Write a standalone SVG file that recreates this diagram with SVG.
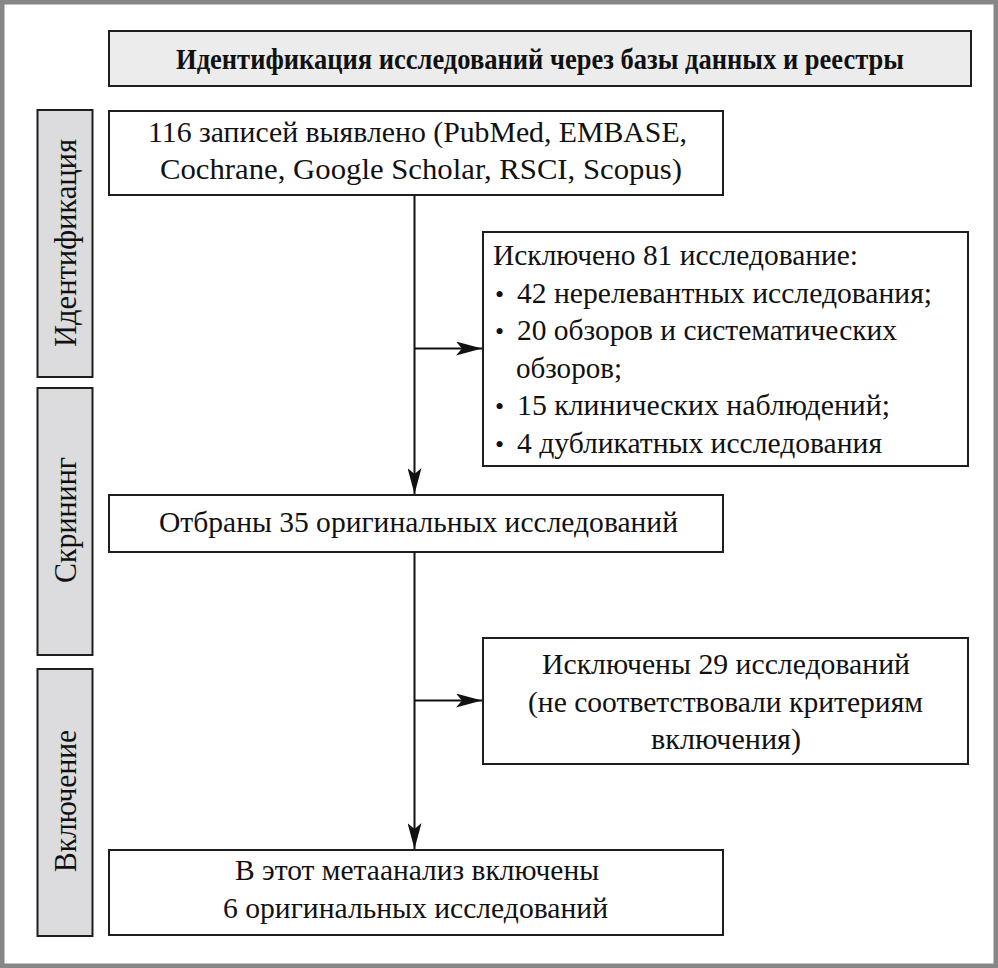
<svg xmlns="http://www.w3.org/2000/svg" width="998" height="968" viewBox="0 0 998 968">
<defs>
<style>
.frame{fill:#ffffff;stroke:#878787;stroke-width:4.5}
.box{fill:#ffffff;stroke:#1e1e1e;stroke-width:2}
.hdr{fill:#ececec;stroke:#1e1e1e;stroke-width:2}
.side{fill:#dcdcde;stroke:#1e1e1e;stroke-width:2}
.t{font-family:"Liberation Serif","Times New Roman",serif;font-size:30px;fill:#111111}
.tb{font-family:"Liberation Serif","Times New Roman",serif;font-size:30px;font-weight:bold;fill:#111111}
.ts{font-family:"Liberation Serif","Times New Roman",serif;font-size:31px;fill:#111111}
.bul{font-family:"Liberation Serif","Times New Roman",serif;font-size:26px;fill:#111111}
.conn{fill:none;stroke:#111111;stroke-width:2}
</style>
<marker id="ah" viewBox="0 0 26 14" refX="26" refY="7" markerWidth="26" markerHeight="14" markerUnits="userSpaceOnUse" orient="auto">
<path d="M0,0 L26,7 L0,14 L6,7 Z" fill="#111111"/>
</marker>
</defs>
<rect class="frame" x="2.25" y="2.25" width="993.5" height="963.5"/>

<g id="header">
<rect class="hdr" x="109" y="31" width="862" height="55"/>
<text class="tb" x="176" y="69" textLength="728" lengthAdjust="spacingAndGlyphs">Идентификация исследований через базы данных и реестры</text>
</g>

<g id="stage-identification">
<rect class="side" x="37.5" y="110" width="55" height="267"/>
<text class="ts" x="75.5" y="347" transform="rotate(-90 75.5 347)" textLength="208" lengthAdjust="spacingAndGlyphs">Идентификация</text>
</g>
<g id="stage-screening">
<rect class="side" x="37.5" y="388" width="55" height="267"/>
<text class="ts" x="75.5" y="583" transform="rotate(-90 75.5 583)" textLength="126" lengthAdjust="spacingAndGlyphs">Скрининг</text>
</g>
<g id="stage-inclusion">
<rect class="side" x="37.5" y="669" width="55" height="267"/>
<text class="ts" x="75.5" y="872" transform="rotate(-90 75.5 872)" textLength="142" lengthAdjust="spacingAndGlyphs">Включение</text>
</g>

<g id="records-identified">
<rect class="box" x="109" y="111" width="614" height="84"/>
<text class="t" x="148" y="142" textLength="539" lengthAdjust="spacingAndGlyphs">116 записей выявлено (PubMed, EMBASE,</text>
<text class="t" x="160" y="179" textLength="522" lengthAdjust="spacingAndGlyphs">Cochrane, Google Scholar, RSCI, Scopus)</text>
</g>

<g id="excluded-81">
<rect class="box" x="483" y="232" width="485" height="234"/>
<text class="t" x="493" y="265" textLength="365" lengthAdjust="spacingAndGlyphs">Исключено 81 исследование:</text>
<text class="bul" x="495" y="302.5">•</text>
<text class="t" x="517" y="302.5" textLength="415" lengthAdjust="spacingAndGlyphs">42 нерелевантных исследования;</text>
<text class="bul" x="495" y="340">•</text>
<text class="t" x="517" y="340" textLength="380" lengthAdjust="spacingAndGlyphs">20 обзоров и систематических</text>
<text class="t" x="516" y="377.5" textLength="106" lengthAdjust="spacingAndGlyphs">обзоров;</text>
<text class="bul" x="495" y="415">•</text>
<text class="t" x="517" y="415" textLength="373" lengthAdjust="spacingAndGlyphs">15 клинических наблюдений;</text>
<text class="bul" x="495" y="452.5">•</text>
<text class="t" x="517" y="452.5" textLength="365" lengthAdjust="spacingAndGlyphs">4 дубликатных исследования</text>
</g>

<g id="selected-35">
<rect class="box" x="109" y="495" width="614" height="57"/>
<text class="t" x="159" y="532" textLength="519" lengthAdjust="spacingAndGlyphs">Отбраны 35 оригинальных исследований</text>
</g>

<g id="excluded-29">
<rect class="box" x="483" y="638" width="485" height="126"/>
<text class="t" x="542" y="674" textLength="368" lengthAdjust="spacingAndGlyphs">Исключены 29 исследований</text>
<text class="t" x="528" y="711.5" textLength="395" lengthAdjust="spacingAndGlyphs">(не соответствовали критериям</text>
<text class="t" x="651" y="749" textLength="150" lengthAdjust="spacingAndGlyphs">включения)</text>
</g>

<g id="included-6">
<rect class="box" x="109" y="850" width="614" height="85"/>
<text class="t" x="235" y="880" textLength="364" lengthAdjust="spacingAndGlyphs">В этот метаанализ включены</text>
<text class="t" x="223" y="918" textLength="385" lengthAdjust="spacingAndGlyphs">6 оригинальных исследований</text>
</g>

<g id="connectors">
<line class="conn" x1="414.5" y1="195" x2="414.5" y2="494" marker-end="url(#ah)"/>
<line class="conn" x1="414.5" y1="348.5" x2="482" y2="348.5" marker-end="url(#ah)"/>
<line class="conn" x1="414.5" y1="552" x2="414.5" y2="849" marker-end="url(#ah)"/>
<line class="conn" x1="414.5" y1="700.5" x2="482" y2="700.5" marker-end="url(#ah)"/>
</g>
</svg>
